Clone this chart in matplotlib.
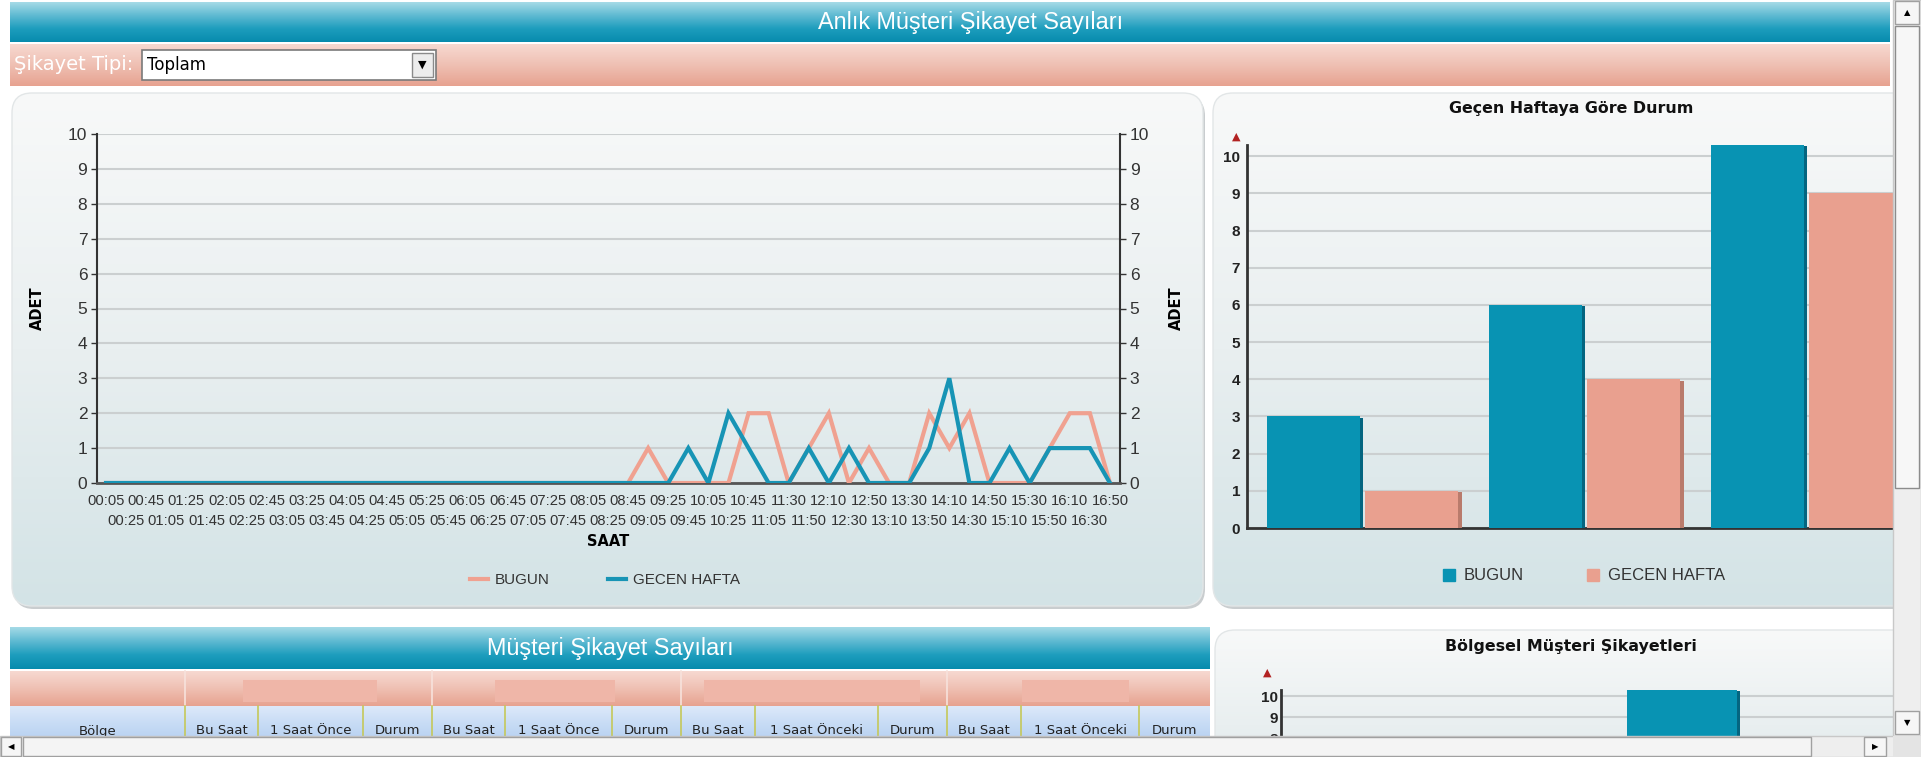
import matplotlib
matplotlib.use("Agg")
import matplotlib.pyplot as plt
import numpy as np
from matplotlib.patches import Rectangle, FancyBboxPatch, Patch
from matplotlib.lines import Line2D
from matplotlib.colors import LinearSegmentedColormap
import matplotlib.patheffects as pe

plt.rcParams['font.family'] = ['Liberation Sans', 'DejaVu Sans']

# --- data -------------------------------------------------------------
saat = ['00:05', '00:25', '00:45', '01:05', '01:25', '01:45', '02:05', '02:25',
        '02:45', '03:05', '03:25', '03:45', '04:05', '04:25', '04:45', '05:05',
        '05:25', '05:45', '06:05', '06:25', '06:45', '07:05', '07:25', '07:45',
        '08:05', '08:25', '08:45', '09:05', '09:25', '09:45', '10:05', '10:25',
        '10:45', '11:05', '11:30', '11:50', '12:10', '12:30', '12:50', '13:10',
        '13:30', '13:50', '14:10', '14:30', '14:50', '15:10', '15:30', '15:50',
        '16:10', '16:30', '16:50']
bugun = [0, 0, 0, 0, 0, 0, 0, 0, 0, 0, 0, 0, 0, 0, 0, 0, 0, 0, 0, 0, 0, 0, 0, 0,
         0, 0, 0, 1, 0, 0, 0, 0, 2, 2, 0, 1, 2, 0, 1, 0, 0, 2, 1, 2, 0, 0, 0, 1,
         2, 2, 0]
gecen_hafta = [0, 0, 0, 0, 0, 0, 0, 0, 0, 0, 0, 0, 0, 0, 0, 0, 0, 0, 0, 0, 0, 0, 0, 0,
               0, 0, 0, 0, 0, 1, 0, 2, 1, 0, 0, 1, 0, 1, 0, 0, 0, 1, 3, 0, 0, 1, 0, 1,
               1, 1, 0]

durum_bugun = [3, 6, 10.3]
durum_gecen = [1, 4, 9]

bolge_bugun = [10.3]

tablo_basliklari = ['Bölge', 'Bu Saat', '1 Saat Önce', 'Durum', 'Bu Saat', '1 Saat Önce',
                    'Durum', 'Bu Saat', '1 Saat Önceki', 'Durum', 'Bu Saat',
                    '1 Saat Önceki', 'Durum']

# --- colours / layout ---------------------------------------------------
TEAL = '#0893b3'
SALMON = '#e9a08f'
LTEAL = '#1794b5'
LSALMON = '#f0a190'
W, H = 1921, 757

fig = plt.figure(figsize=(W / 100, H / 100), dpi=100)
fig.patch.set_facecolor('white')


def add_ax(x0, y0, x1, y1, z=1):
    return fig.add_axes([x0 / W, 1 - y1 / H, (x1 - x0) / W, (y1 - y0) / H], zorder=z)


def vgrad(ax, x0, y0, x1, y1, colors, clip=None, z=1):
    cmap = LinearSegmentedColormap.from_list('g', colors)
    g = np.linspace(0, 1, 256).reshape(-1, 1)
    im = ax.imshow(g, cmap=cmap, extent=(x0, x1, y1, y0), aspect='auto',
                   origin='upper', zorder=z, interpolation='bilinear')
    if clip is not None:
        im.set_clip_path(clip)
    return im


# background chrome
bg = add_ax(0, 0, W, H, z=0)
bg.set_axis_off()

header_cols = ['#a6dbe7', '#5fbad2', '#1d9dbd', '#078bad']
salmon_cols = ['#f7d9d1', '#efc0b3', '#e7a290']

vgrad(bg, 10, 2, 1890, 42, header_cols)
bg.text(971, 22, 'Anlık Müşteri Şikayet Sayıları', color='white', fontsize=16.8,
        ha='center', va='center')
vgrad(bg, 10, 44, 1890, 86, salmon_cols)
bg.text(14, 65, 'Şikayet Tipi:', color='white', fontsize=14, ha='left', va='center',
        family='DejaVu Sans')
bg.add_patch(Rectangle((142, 50), 294, 30, facecolor='white', edgecolor='#7a7a7a', lw=1.2, zorder=3))
bg.add_patch(Rectangle((412, 53), 21, 24, facecolor='#ececec', edgecolor='#8a8a8a', lw=1, zorder=4))
bg.text(422.5, 65, '▼', fontsize=8, ha='center', va='center', color='black', zorder=5,
        family='DejaVu Sans')
bg.text(147, 65, 'Toplam', fontsize=12, ha='left', va='center', color='black', zorder=5,
        family='DejaVu Sans')

panel_cols = ['#f8f9f9', '#e9eff0', '#d3e3e6']


def panel(x0, y0, x1, y1):
    sh = FancyBboxPatch((x0 + 2, y0 + 3), x1 - x0, y1 - y0,
                        boxstyle='round,pad=0,rounding_size=20',
                        facecolor='#c9cdcf', edgecolor='none', zorder=1)
    bg.add_patch(sh)
    p = FancyBboxPatch((x0, y0), x1 - x0, y1 - y0,
                       boxstyle='round,pad=0,rounding_size=20',
                       facecolor='none', edgecolor='#e2e6e7', lw=1, zorder=3)
    bg.add_patch(p)
    vgrad(bg, x0, y0, x1, y1, panel_cols, clip=p, z=2)


panel(12, 93, 1203, 606)
panel(1213, 93, 1960, 606)
panel(1215, 630, 1960, 820)

# table block
vgrad(bg, 10, 627, 1210, 669, header_cols)
bg.text(610, 649, 'Müşteri Şikayet Sayıları', color='white', fontsize=16.8,
        ha='center', va='center')
vgrad(bg, 10, 671, 1210, 706, salmon_cols)
vgrad(bg, 10, 706, 1210, 740, ['#dde9fa', '#c8dcf5', '#b7d1f1'])
col_edges = [10, 185, 258, 363, 432, 505, 612, 681, 755, 878, 947, 1021, 1139, 1210]
for xe in [185, 432, 681, 947]:
    bg.plot([xe, xe], [671, 706], color='#f7e2dc', lw=1.2, zorder=3)
for xe in col_edges[1:-1]:
    bg.plot([xe, xe], [706, 740], color='#c5c85a', lw=1.2, zorder=3)
for bx0, bx1 in [(243, 377), (495, 615), (704, 920), (1022, 1129)]:
    bg.add_patch(Rectangle((bx0, 680), bx1 - bx0, 22, facecolor='#efb6a8',
                           edgecolor='none', zorder=3))
for i, lab in enumerate(tablo_basliklari):
    bg.text((col_edges[i] + col_edges[i + 1]) / 2, 731, lab, fontsize=9.5,
            ha='center', va='center', color='#222222', zorder=4, family='DejaVu Sans')

bg.set_xlim(0, W)
bg.set_ylim(H, 0)

# --- line chart ----------------------------------------------------------
ax = add_ax(97, 134, 1120, 483, z=2)
ax.patch.set_alpha(0)
x = np.arange(len(saat))
ax.plot(x, bugun, color=LSALMON, lw=3, solid_joinstyle='miter', zorder=3)
ax.plot(x, gecen_hafta, color=LTEAL, lw=3, solid_joinstyle='miter', zorder=4)
ax.set_xlim(-0.45, 50.5)
ax.set_ylim(0, 10)
ax.set_yticks(range(0, 11))
ax.yaxis.grid(True, color='#cbcfd0', lw=1.5)
ax.set_axisbelow(True)
# two staggered rows of time labels
ax.set_xticks(x[::2])
ax.set_xticklabels(saat[::2], fontsize=10.6, color='#333333')
ax.set_xticks(x[1::2], minor=True)
ax.set_xticklabels(saat[1::2], minor=True, fontsize=10.6, color='#333333')
ax.tick_params(axis='x', which='major', length=0, pad=8)
ax.tick_params(axis='x', which='minor', length=0, pad=22)
ax.tick_params(axis='y', left=True, right=True, labelleft=True, labelright=True,
               length=4, width=1, colors='#333333', labelsize=12.5, pad=3)
for s in ['left', 'right']:
    ax.spines[s].set_color('#333333')
    ax.spines[s].set_linewidth(1.5)
ax.spines['bottom'].set_color('#555555')
ax.spines['bottom'].set_linewidth(2)
ax.spines['top'].set_visible(False)
fig.text(37 / W, 1 - 308 / H, 'ADET', rotation=90, fontsize=10.5, fontweight='bold',
         ha='center', va='center', family='DejaVu Sans')
fig.text(1176 / W, 1 - 308 / H, 'ADET', rotation=90, fontsize=10.5, fontweight='bold',
         ha='center', va='center', family='DejaVu Sans')
fig.text(608 / W, 1 - 541 / H, 'SAAT', fontsize=10.5, fontweight='bold',
         ha='center', va='center', family='DejaVu Sans')
fig.legend([Line2D([], [], color=LSALMON, lw=3), Line2D([], [], color=LTEAL, lw=3)],
           ['BUGUN', 'GECEN HAFTA'], loc='center', bbox_to_anchor=(605 / W, 1 - 580 / H),
           ncol=2, frameon=False, fontsize=11, handlelength=1.2, columnspacing=3.8,
           handletextpad=0.45, labelcolor='#333333')

# --- bar chart: Geçen Haftaya Göre Durum -------------------------------
bx = add_ax(1247, 145, 1893, 528, z=2)
bx.patch.set_alpha(0)
pos = np.arange(len(durum_bugun))
bx.bar(pos - 0.222, durum_bugun, width=0.42, color=TEAL, zorder=3,
       path_effects=[pe.SimplePatchShadow(offset=(2.5, -1), shadow_rgbFace='#046580', alpha=1),
                     pe.Normal()])
bx.bar(pos + 0.222, durum_gecen, width=0.42, color=SALMON, zorder=3,
       path_effects=[pe.SimplePatchShadow(offset=(2.5, -1), shadow_rgbFace='#b97b6c', alpha=1),
                     pe.Normal()])
bx.set_xlim(-0.52, 2.39)
bx.set_ylim(0, 10.3)
bx.set_yticks(range(0, 11))
bx.set_xticks([])
bx.yaxis.grid(True, color='#cbcfd0', lw=1.5)
bx.set_axisbelow(True)
for lab in bx.get_yticklabels():
    lab.set_fontweight('bold')
bx.tick_params(axis='y', length=0, labelsize=11, colors='#222222', pad=5)
bx.spines['left'].set_color('#333333')
bx.spines['left'].set_linewidth(2)
bx.spines['bottom'].set_color('#333333')
bx.spines['bottom'].set_linewidth(2)
bx.spines['top'].set_visible(False)
bx.spines['right'].set_visible(False)
fig.text(1571 / W, 1 - 108 / H, 'Geçen Haftaya Göre Durum', fontsize=11.4,
         fontweight='bold', ha='center', va='center', family='DejaVu Sans', color='#111111')
fig.text(1236 / W, 1 - 137 / H, '▲', fontsize=8, color='#b22222', ha='center',
         va='center', family='DejaVu Sans')
fig.legend([Patch(color=TEAL), Patch(color=SALMON)], ['BUGUN', 'GECEN HAFTA'],
           loc='center', bbox_to_anchor=(1584 / W, 1 - 576 / H), ncol=2, frameon=False,
           fontsize=12, handlelength=0.72, handleheight=0.72, columnspacing=3.8,
           handletextpad=0.5, labelcolor='#333333')

# --- bar chart: Bölgesel Müşteri Şikayetleri (cut off) -------------------
rx = add_ax(1281, 690, 1893, 757, z=2)
rx.patch.set_alpha(0)
rx.bar([0], bolge_bugun, width=1.0, color=TEAL, zorder=3,
       path_effects=[pe.SimplePatchShadow(offset=(2.5, -1), shadow_rgbFace='#046580', alpha=1),
                     pe.Normal()])
rx.set_xlim(-3.65, 1.92)
rx.set_ylim(7.1, 10.29)
rx.set_yticks([8, 9, 10])
rx.set_xticks([])
rx.yaxis.grid(True, color='#cbcfd0', lw=1.5)
rx.set_axisbelow(True)
for lab in rx.get_yticklabels():
    lab.set_fontweight('bold')
rx.tick_params(axis='y', length=0, labelsize=11, colors='#222222', pad=2)
rx.spines['left'].set_color('#333333')
rx.spines['left'].set_linewidth(2)
for s in ['top', 'right', 'bottom']:
    rx.spines[s].set_visible(False)
fig.text(1571 / W, 1 - 646 / H, 'Bölgesel Müşteri Şikayetleri', fontsize=11.4,
         fontweight='bold', ha='center', va='center', family='DejaVu Sans', color='#111111')
fig.text(1267 / W, 1 - 673 / H, '▲', fontsize=8, color='#b22222', ha='center',
         va='center', family='DejaVu Sans')

# --- scrollbars ----------------------------------------------------------
sc = add_ax(0, 0, W, H, z=10)
sc.set_axis_off()
sc.patch.set_alpha(0)
sc.add_patch(Rectangle((1893, 0), 28, 736, facecolor='#eeeeee', edgecolor='#c8c8c8', lw=1))
sc.add_patch(Rectangle((1895, 1), 24, 23, facecolor='#f6f6f6', edgecolor='#a0a0a0', lw=1))
sc.text(1907, 12.5, '▲', fontsize=6, ha='center', va='center', family='DejaVu Sans')
sc.add_patch(Rectangle((1895, 26), 24, 462, facecolor='#f7f7f7', edgecolor='#8c8c8c', lw=1))
sc.add_patch(Rectangle((1895, 711), 24, 23, facecolor='#f6f6f6', edgecolor='#a0a0a0', lw=1))
sc.text(1907, 722.5, '▼', fontsize=6, ha='center', va='center', family='DejaVu Sans')
sc.add_patch(Rectangle((0, 736), W, 21, facecolor='#eeeeee', edgecolor='#c8c8c8', lw=1))
sc.add_patch(Rectangle((1, 737), 20, 19, facecolor='#f6f6f6', edgecolor='#a0a0a0', lw=1))
sc.text(11, 746.5, '◀', fontsize=6, ha='center', va='center', family='DejaVu Sans')
sc.add_patch(Rectangle((23, 737), 1788, 19, facecolor='#f4f4f4', edgecolor='#a0a0a0', lw=1))
sc.add_patch(Rectangle((1864, 737), 22, 19, facecolor='#f6f6f6', edgecolor='#a0a0a0', lw=1))
sc.text(1875, 746.5, '▶', fontsize=6, ha='center', va='center', family='DejaVu Sans')
sc.add_patch(Rectangle((1893, 736), 28, 21, facecolor='#e4e4e4', edgecolor='none'))
sc.set_xlim(0, W)
sc.set_ylim(H, 0)

fig.savefig('out.png', dpi=100)
